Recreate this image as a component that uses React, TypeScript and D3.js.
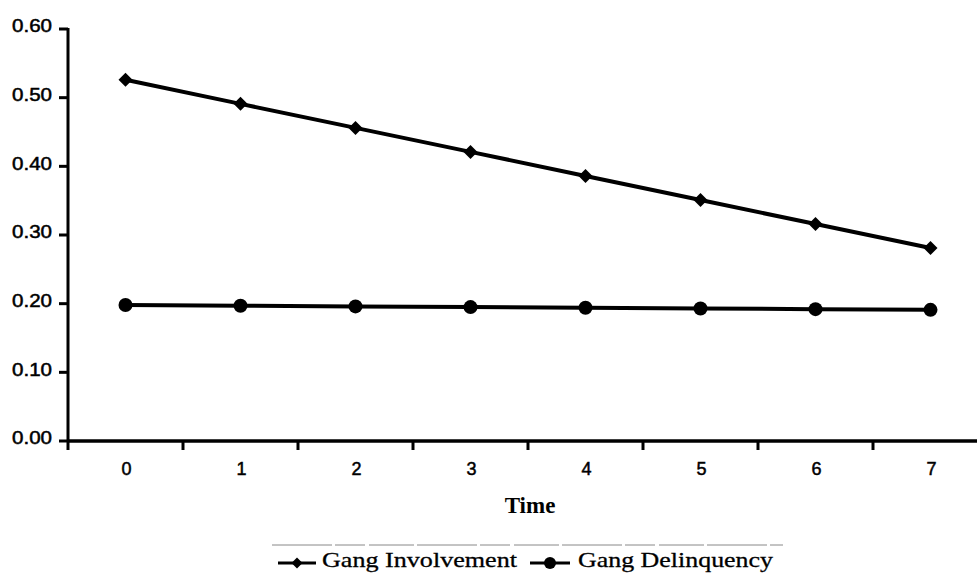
import React from "react";
import * as d3 from "d3";

const categories = ["0", "1", "2", "3", "4", "5", "6", "7"];
const involvement = [0.526, 0.491, 0.456, 0.421, 0.386, 0.351, 0.316, 0.281];
const delinquency = [0.198, 0.197, 0.196, 0.195, 0.194, 0.193, 0.192, 0.191];
const yTicks = [0, 0.1, 0.2, 0.3, 0.4, 0.5, 0.6];

export default function App() {
  const W = 977, H = 577;
  const left = 68, top = 29, bottom = 441;
  const x = d3.scaleBand().domain(categories).range([left, left + 115 * 8]).paddingInner(0).paddingOuter(0);
  const y = d3.scaleLinear().domain([0, 0.6]).range([bottom, top]);
  const cx = (c: string) => (x(c) as number) + x.bandwidth() / 2;
  const line = d3.line<number>().x((_, i) => cx(categories[i])).y((d) => y(d));
  const diamond = (px: number, py: number, s = 7) =>
    `M${px},${py - s}L${px + s},${py}L${px},${py + s}L${px - s},${py}Z`;
  const boundaries = d3.range(0, 9).map((i) => left + x.bandwidth() * i);
  const sans = "Liberation Sans, Arial, sans-serif";
  const serif = "Liberation Serif, Times New Roman, serif";
  const heavy = { stroke: "#000", strokeWidth: 0.5 };

  return (
    <svg width={W} height={H} style={{ position: "absolute", left: 0, top: 0, background: "#fff" }}>
      {/* y axis */}
      <line x1={left} x2={left} y1={top - 1} y2={bottom + 1} stroke="#000" strokeWidth={3} />
      {yTicks.map((t) => (
        <g key={t}>
          <line x1={left - 9} x2={left} y1={y(t)} y2={y(t)} stroke="#000" strokeWidth={3} />
          <text x={12} y={y(t) - 3} dy="0.35em" textLength={40} lengthAdjust="spacingAndGlyphs" fontFamily={sans} fontSize={18} {...heavy}>
            {t.toFixed(2)}
          </text>
        </g>
      ))}
      {/* x axis */}
      <line x1={left} x2={W} y1={bottom} y2={bottom} stroke="#000" strokeWidth={3.5} />
      {boundaries.map((b) => (
        <line key={b} x1={b} x2={b} y1={bottom} y2={bottom + 9} stroke="#000" strokeWidth={3} />
      ))}
      {categories.map((c) => (
        <text key={c} x={cx(c) + 1} y={469} dy="0.35em" textAnchor="middle" fontFamily={sans} fontSize={18} {...heavy}>
          {c}
        </text>
      ))}
      <text x={530} y={505} dy="0.35em" textAnchor="middle" fontFamily={serif} fontWeight="bold" fontSize={23}>
        Time
      </text>

      {/* series */}
      <path d={line(involvement) as string} fill="none" stroke="#000" strokeWidth={4} />
      {involvement.map((v, i) => (
        <path key={i} d={diamond(cx(categories[i]), y(v))} fill="#000" />
      ))}
      <path d={line(delinquency) as string} fill="none" stroke="#000" strokeWidth={4} />
      {delinquency.map((v, i) => (
        <circle key={i} cx={cx(categories[i])} cy={y(v)} r={7} fill="#000" />
      ))}

      {/* legend */}
      <line x1={272} x2={783} y1={545} y2={545} stroke="#888" strokeWidth={1} strokeDasharray="60 3 30 4 45 3" />
      <line x1={278} x2={316} y1={563} y2={563} stroke="#000" strokeWidth={3} />
      <path d={diamond(297, 563, 5.5)} fill="#000" />
      <text x={322} y={567} textLength={195} lengthAdjust="spacingAndGlyphs" fontFamily={serif} fontSize={22} stroke="#000" strokeWidth={0.3}>
        Gang Involvement
      </text>
      <line x1={530} x2={570} y1={563} y2={563} stroke="#000" strokeWidth={3} />
      <circle cx={550} cy={563} r={6} fill="#000" />
      <text x={578} y={567} textLength={195} lengthAdjust="spacingAndGlyphs" fontFamily={serif} fontSize={22} stroke="#000" strokeWidth={0.3}>
        Gang Delinquency
      </text>
    </svg>
  );
}
